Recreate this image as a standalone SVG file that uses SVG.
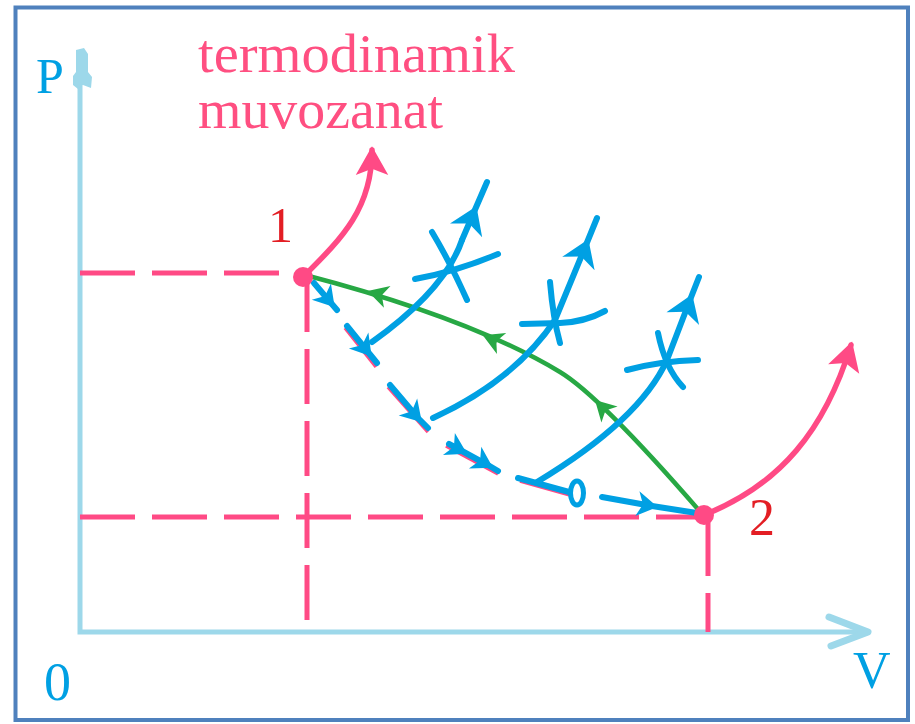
<svg xmlns="http://www.w3.org/2000/svg" width="915" height="724" viewBox="0 0 915 724">
<defs>
<style>
.axis{stroke:#9dd8ea;stroke-width:5;fill:none;stroke-linecap:square}
.dash{stroke:#ff4a85;stroke-width:5;fill:none;stroke-dasharray:55 17}
.pink{stroke:#ff4a85;stroke-width:5.5;fill:none;stroke-linecap:round}
.pinkthin{stroke:#ff4a85;stroke-width:3.5;fill:none}
.blue{stroke:#00a0e3;stroke-width:6;fill:none;stroke-linecap:round}
.green{stroke:#27a844;stroke-width:4.5;fill:none}
.lbl{font-family:"Liberation Serif","Times New Roman",serif}
</style>
<marker id="pa" markerUnits="userSpaceOnUse" markerWidth="40" markerHeight="40" refX="0" refY="0" viewBox="-26 -16 32 32" orient="auto">
<path d="M3,0 L-20,-13 L-15,0 L-20,13 Z" fill="#ff4a85"/>
</marker>
<marker id="ba" markerUnits="userSpaceOnUse" markerWidth="40" markerHeight="40" refX="0" refY="0" viewBox="-24 -16 32 32" orient="auto">
<path d="M5,0 L-16,-14 L-10,0 L-16,14 Z" fill="#00a0e3"/>
</marker>
<marker id="bs" markerUnits="userSpaceOnUse" markerWidth="32" markerHeight="32" refX="0" refY="0" viewBox="-18 -14 28 28" orient="auto">
<path d="M5,0 L-13,-11 L-8,0 L-13,11 Z" fill="#00a0e3"/>
</marker>
<marker id="ga" markerUnits="userSpaceOnUse" markerWidth="32" markerHeight="32" refX="0" refY="0" viewBox="-18 -14 28 28" orient="auto">
<path d="M5,0 L-13,-10 L-8,0 L-13,10 Z" fill="#27a844"/>
</marker>
</defs>
<rect x="15.5" y="7.5" width="892.5" height="712.5" fill="#ffffff" stroke="#4f81bd" stroke-width="4"/>

<g id="axes">
<path class="axis" d="M80 88 L80 632 L866 632"/>
<path d="M76 50 L84 48 L88 54 L88 72 L92 77 L91 88 L83 85 L78 89 L73 85 L73 76 L76 72 Z" fill="#9dd8ea"/>
<path d="M829 617 L868 632 L831 646" stroke="#9dd8ea" stroke-width="7" fill="none" stroke-linejoin="round" stroke-linecap="round"/>
<text class="lbl" x="36" y="93" font-size="50" fill="#00a0e3">P</text>
<text class="lbl" x="44" y="700" font-size="54" fill="#00a0e3">0</text>
<text class="lbl" x="853" y="688" font-size="52" fill="#00a0e3">V</text>
</g>

<g id="title">
<text class="lbl" x="198" y="72" font-size="55" fill="#ff4f81" textLength="317" lengthAdjust="spacingAndGlyphs">termodinamik</text>
<text class="lbl" x="198" y="128" font-size="55" fill="#ff4f81" textLength="245" lengthAdjust="spacingAndGlyphs">muvozanat</text>
</g>

<g id="guides">
<path class="dash" d="M80 273 L303 273"/>
<path class="dash" d="M307 277 L307 632" stroke-dasharray="45 17"/>
<path class="dash" d="M80 517 L704 517"/>
<path class="dash" d="M708 521 L708 632" stroke-dasharray="20 22 60 30"/>
</g>

<g id="connectors">
<path class="green" d="M305 275 Q470 318 560 372 Q600 396 703 515"/>
<path class="green" d="M382 295.3 L373 292.6" marker-end="url(#ga)"/>
<path class="green" d="M497 341.5 L488 337.5" marker-end="url(#ga)"/>
<path class="green" d="M606 411 L599 404" marker-end="url(#ga)"/>

<path class="pink" d="M303 277 C340 240 372 210 372 150" marker-end="url(#pa)"/>
<path class="pink" d="M704 515 C780 485 825 430 851 345" marker-end="url(#pa)"/>

<path class="pinkthin" d="M345 328 L376 367"/>
<path class="pinkthin" d="M388 387 L428 432"/>
<path class="pinkthin" d="M446 446 L498 474"/>
<path class="pinkthin" d="M520 481 L570 495"/>

<path class="blue" d="M314 283 L331 303 L337 310" marker-mid="url(#bs)"/>
<path class="blue" d="M347 326 L368 352 L377 363" marker-mid="url(#bs)"/>
<path class="blue" d="M390 385 L418 418 L428 428" marker-mid="url(#bs)"/>
<path class="blue" d="M449 444 L462 451 L488 465 L498 471" marker-mid="url(#bs)"/>
<path class="blue" d="M518 478 L569 492"/>
<ellipse cx="577" cy="493" rx="6.5" ry="12" stroke="#00a0e3" stroke-width="5" fill="none"/>
<path class="blue" d="M602 497 L652 506 L697 513" marker-mid="url(#bs)"/>

<path class="blue" d="M372 342 Q445 290 462 240"/>
<path class="blue" d="M462 240 L474 212 L487 182" marker-mid="url(#ba)"/>
<path class="blue" d="M432 232 Q450 262 467 300"/>
<path class="blue" d="M415 279 Q455 272 498 254"/>

<path class="blue" d="M433 418 Q515 380 555 320"/>
<path class="blue" d="M555 320 L586 245 L597 218" marker-mid="url(#ba)"/>
<path class="blue" d="M550 282 Q553 318 560 343"/>
<path class="blue" d="M522 324 L560 323 Q585 322 605 311"/>

<path class="blue" d="M537 482 Q640 420 667 360"/>
<path class="blue" d="M667 360 L690 300 L699 277" marker-mid="url(#ba)"/>
<path class="blue" d="M658 333 Q665 368 683 387"/>
<path class="blue" d="M627 370 Q660 361 698 360"/>
</g>

<g id="node1">
<circle cx="303" cy="277" r="10" fill="#ff4a85"/>
<text class="lbl" x="268" y="242" font-size="50" fill="#e31e24">1</text>
</g>
<g id="node2">
<circle cx="704" cy="515" r="10" fill="#ff4a85"/>
<text class="lbl" x="749" y="535" font-size="52" fill="#e31e24">2</text>
</g>
</svg>
